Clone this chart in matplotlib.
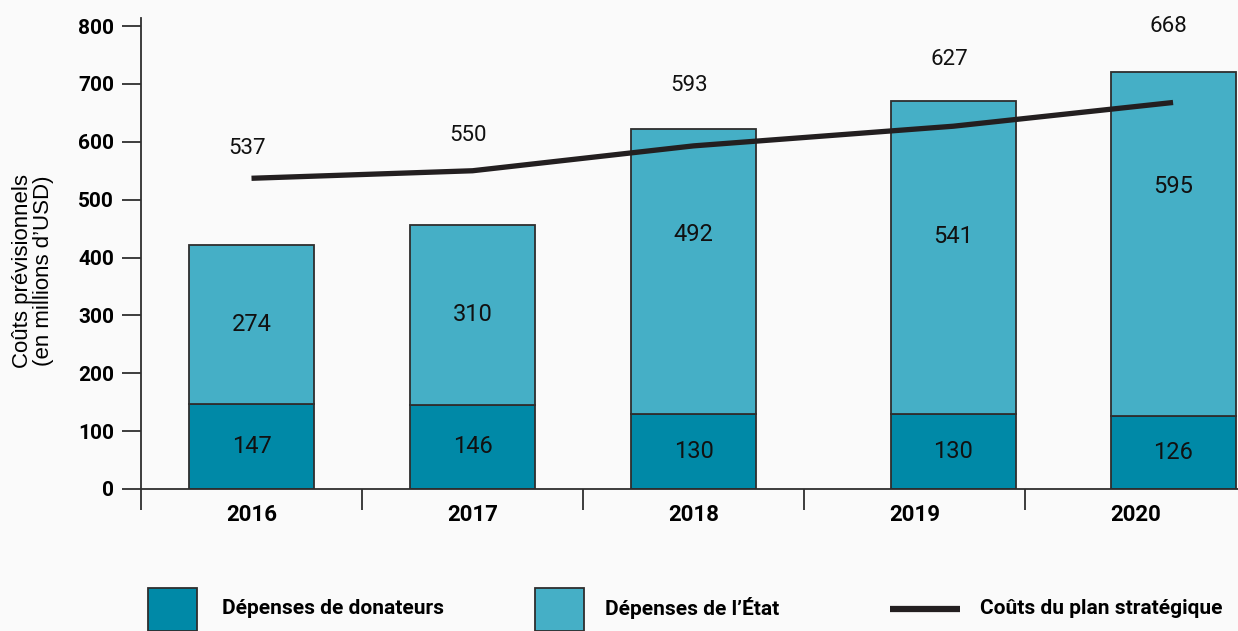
import matplotlib
matplotlib.use('Agg')
import matplotlib.pyplot as plt
from matplotlib.patches import Rectangle
from matplotlib.lines import Line2D
import numpy as np

# data
years = ['2016', '2017', '2018', '2019', '2020']
donateurs = [147, 146, 130, 130, 126]
etat = [274, 310, 492, 541, 595]
plan = [537, 550, 593, 627, 668]

# layout (bars of last two years sit a bit right of their category)
bar_shift = [0, 0, 0, 0.176, 0.17]
etat_label_y = [284, 301, 439, 437, 523]
plan_label_y = [589, 611, 698, 743, 800]

dark = '#0089a7'
light = '#45afc6'
edge = '#2e2e2e'
bg = '#fafafa'

plt.rcParams['font.family'] = ['Roboto', 'DejaVu Sans']

fig = plt.figure(figsize=(12.38, 6.31), dpi=100, facecolor=bg)
ax = fig.add_axes([141 / 1238, 1 - 489 / 631, 1 - 141 / 1238, (489 - 18) / 631])
ax.set_facecolor(bg)

x = np.arange(len(years)) + np.array(bar_shift)
w = 0.566
ax.bar(x, donateurs, w, color=dark, edgecolor=edge, linewidth=1.3, zorder=2)
ax.bar(x, etat, w, bottom=donateurs, color=light, edgecolor=edge, linewidth=1.3, zorder=2)
ax.plot(x, plan, color='#231f20', linewidth=3.8, solid_capstyle='butt', zorder=3)

for i in range(len(years)):
    ax.text(x[i], donateurs[i] / 2, str(donateurs[i]), ha='center', va='center', fontsize=17, color='#111')
    ax.text(x[i], etat_label_y[i], str(etat[i]), ha='center', va='center', fontsize=17, color='#111')
    ax.text(x[i] - 0.02, plan_label_y[i], str(plan[i]), ha='center', va='center', fontsize=16, color='#111')

ax.set_xlim(-0.5, -0.5 + 1097 / 221)
ax.set_ylim(0, 814)
for s in ['top', 'right']:
    ax.spines[s].set_visible(False)
for s in ['left', 'bottom']:
    ax.spines[s].set_color(edge)
    ax.spines[s].set_linewidth(1.3)

ax.set_yticks(range(0, 801, 100))
ax.tick_params(axis='y', length=13.5, width=1.3, color=edge, pad=6, labelsize=15)
for t in ax.get_yticklabels():
    t.set_fontweight('bold')

ax.set_xticks(range(len(years)))
ax.set_xticklabels(years, fontsize=16, fontweight='bold')
ax.set_xticks(np.arange(len(years)) - 0.5, minor=True)
ax.tick_params(axis='x', which='major', length=0, pad=11)
ax.tick_params(axis='x', which='minor', length=15, width=1.3, color=edge)

fig.text(33 / 1238, 1 - 271 / 631, 'Coûts prévisionnels\n(en millions d\u2019USD)', rotation=90,
         ha='center', va='center', fontsize=16, family='Liberation Sans', linespacing=1.05)

# legend drawn by hand along the bottom edge
H = 631
fig.add_artist(Rectangle((148 / 1238, 0), 49 / 1238, (H - 588) / H, transform=fig.transFigure,
                         facecolor=dark, edgecolor=edge, linewidth=1.3))
fig.text(222 / 1238, 1 - 608 / H, 'Dépenses de donateurs', fontsize=15, fontweight='bold', va='center')
fig.add_artist(Rectangle((535 / 1238, 0), 49 / 1238, (H - 588) / H, transform=fig.transFigure,
                         facecolor=light, edgecolor=edge, linewidth=1.3))
fig.text(605 / 1238, 1 - 608 / H, 'Dépenses de l\u2019État', fontsize=15, fontweight='bold', va='center')
fig.add_artist(Line2D([890 / 1238, 960 / 1238], [1 - 609 / H, 1 - 609 / H], transform=fig.transFigure,
                      color='#231f20', linewidth=4.5, solid_capstyle='butt'))
fig.text(980 / 1238, 1 - 608 / H, 'Coûts du plan stratégique', fontsize=15, fontweight='bold', va='center')

fig.savefig('out.png', dpi=100, facecolor=bg)
